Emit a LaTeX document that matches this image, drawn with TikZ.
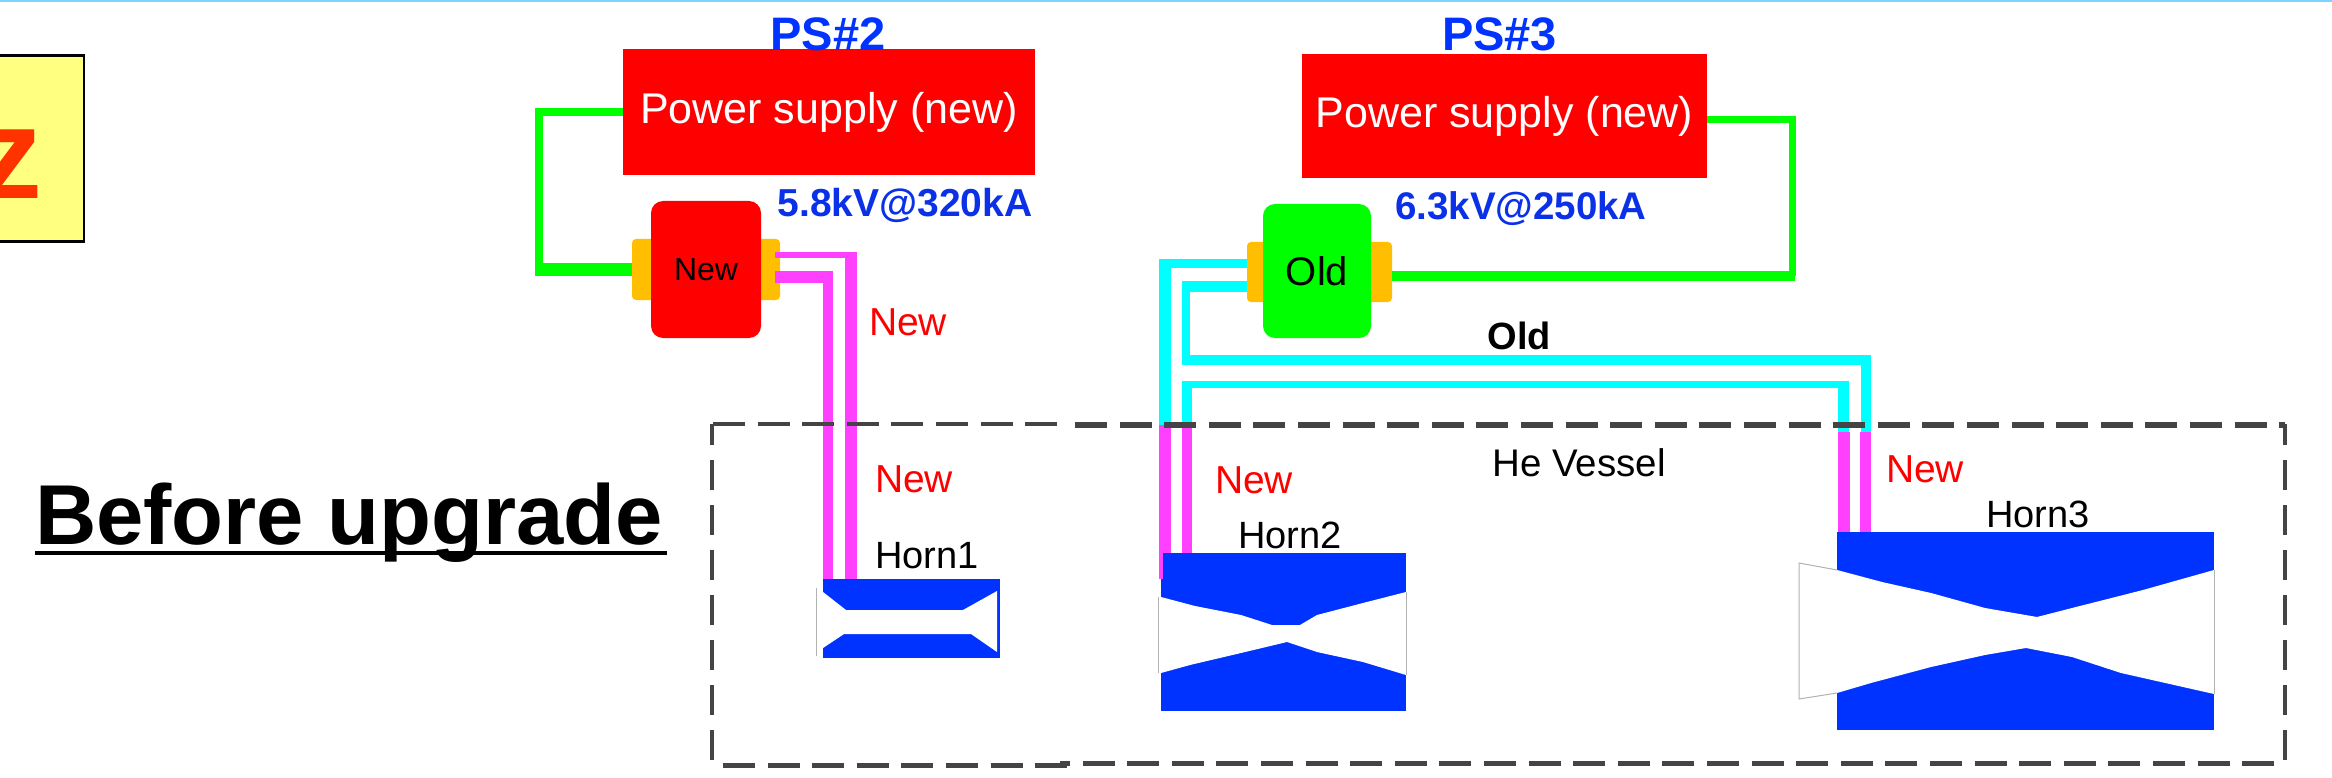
\documentclass[tikz,border=0pt]{standalone}
\usepackage{fontspec}
\setmainfont{Liberation Sans}
\definecolor{hornblue}{HTML}{0033FF}
\definecolor{labelblue}{HTML}{0A30E8}
\definecolor{wiremag}{HTML}{FF40FF}
\definecolor{wirecyan}{HTML}{00FFFF}
\definecolor{wiregreen}{HTML}{00FF00}
\definecolor{tabor}{HTML}{FFBF00}
\definecolor{dashgray}{HTML}{444444}
\definecolor{zred}{HTML}{FF3300}
\definecolor{zyellow}{HTML}{FFFF80}
\definecolor{topline}{HTML}{7FD4FF}
\newcommand{\fs}[1]{\fontsize{#1}{#1}\selectfont}
\tikzset{
  every node/.style={inner sep=0pt,outer sep=0pt},
  supply/.style={fill=red,text=white,font=\fs{43}},
  tabbox/.style={fill=tabor,rounded corners=4pt},
  switchbox/.style={rounded corners=12pt},
  hornbox/.style={fill=hornblue},
  bore/.style={fill=white,draw=none},
  hornedge/.style={draw=black!30,line width=1pt},
  greenwire/.style={draw=wiregreen,line join=miter},
  cyanwire/.style={draw=wirecyan,line join=miter},
  magwire/.style={draw=wiremag,line join=miter},
  vesselh/.style={draw=dashgray,dash pattern=on 32pt off 12.6pt},
  vesselv/.style={draw=dashgray,line width=3.5pt,dash pattern=on 30pt off 15pt},
  pslabel/.style={text=hornblue,font=\bfseries\fs{47}},
  volt/.style={text=labelblue,font=\bfseries\fs{38.5}},
  newlabel/.style={text=red,font=\fs{39}},
  blacklabel/.style={text=black,font=\fs{38}},
}
\begin{document}
\begin{tikzpicture}[x=1pt,y=-1pt]
\useasboundingbox (0,0) rectangle (2332,778);
\fill[white] (0,0) rectangle (2332,778);
\fill[topline] (0,0) rectangle (2332,2);

% left box
\node[draw=black,line width=2.5pt,fill=zyellow,minimum width=104pt,minimum height=186pt] (zbox) at (32,148.5) {};
\node[text=zred,font=\bfseries\fs{130},anchor=base] (zlab) at (10,199) {z};
\node[anchor=base west,font=\bfseries\fs{85}] (before) at (35,544) {Before upgrade};
\draw[line width=4pt] ([yshift=-9pt]before.base west) -- ([xshift=4pt,yshift=-9pt]before.base east);

% power supplies and switches
\node[supply,minimum width=412.5pt,minimum height=126pt] (ps2) at (829,112) {Power supply (new)};
\node[supply,minimum width=405pt,minimum height=124pt] (ps3) at (1504.5,116) {Power supply (new)};
\node[tabbox,minimum width=148pt,minimum height=61pt] (tab2) at (706,269.5) {};
\node[tabbox,minimum width=145pt,minimum height=60pt] (tab3) at (1319.5,272) {};

% horns
\node[hornbox,minimum width=177pt,minimum height=79pt] (horn1) at (911.5,618.5) {};
\node[hornbox,minimum width=245pt,minimum height=158pt] (horn2) at (1283.5,632) {};
\node[hornbox,minimum width=377pt,minimum height=198pt] (horn3) at (2025.5,631) {};

% named wire bends
\coordinate (g2c) at (539,269.5);
\coordinate (g2corner) at (535,269.5);
\coordinate (g3c) at (1792.5,276);
\coordinate (g3corner) at (1795,276);
\coordinate (m2a) at (851,255);
\coordinate (m2b) at (828,277);
\coordinate (c2a) at (1165,263.5);
\coordinate (c2b) at (1186,286.5);
\coordinate (c2c) at (1186,360);
\coordinate (c3a) at (1865.5,360);
\coordinate (c3b) at (1843.5,384.5);
\coordinate (v2a) at (1165,425);
\coordinate (v2b) at (1187,425);
\coordinate (v3a) at (1843.5,432);
\coordinate (v3b) at (1865.5,432);
\coordinate (v2c) at (1161,425);
\coordinate (v2d) at (1161,579);

% green wires
\draw[greenwire,line width=8pt] (ps2.west) -| (g2c);
\draw[greenwire,line width=13pt] (g2corner) -- (tab2.west);
\draw[greenwire,line width=7pt] (ps3.east |- 0,119.5) -| (g3c);
\draw[greenwire,line width=10pt] (g3corner) -- (g3corner -| tab3.east);

% magenta wires at Horn1
\draw[magwire,line width=6pt] (775,255) -- (857,255);
\draw[magwire,line width=12pt] (m2a) ++(0,-3) -- (m2a |- horn1.north);
\draw[magwire,line width=12pt] (775,277) -- (833,277);
\draw[magwire,line width=10pt] (m2b) ++(0,-6) -- (m2b |- horn1.north);

% magenta drops into Horn2 and Horn3
\draw[magwire,line width=12pt] (v2a) -- (v2a |- horn2.north);
\draw[magwire,line width=10pt] (v2b) -- (v2b |- horn2.north);
\draw[magwire,line width=4pt] (v2c) -- (v2d);
\draw[magwire,line width=12pt] (v3a) -- (v3a |- horn3.north);
\draw[magwire,line width=11pt] (v3b) -- (v3b |- horn3.north);

% cyan wires
\draw[cyanwire,line width=9pt] (tab3.west |- c2a) -- (1159,263.5);
\draw[cyanwire,line width=12pt] (1165,259) -- (v2a);
\draw[cyanwire,line width=11pt] (tab3.west |- c2b) -- (1182,286.5);
\draw[cyanwire,line width=8pt] (1186,281) -- (c2c);
\draw[cyanwire,line width=10pt] (1182,360) -- (1870.5,360);
\draw[cyanwire,line width=10pt] (c3a) -- (v3b);
\draw[cyanwire,line width=7pt] (1182,384.5) -- (1849,384.5);
\draw[cyanwire,line width=10pt] (1187,381) -- (v2b);
\draw[cyanwire,line width=11pt] (c3b) ++(0,-4) -- (v3a);

% switches
\node[switchbox,fill=red,minimum width=110pt,minimum height=137pt,font=\fs{32}] (sw2) at (706,269.5) {New};
\node[switchbox,fill=wiregreen,minimum width=108pt,minimum height=134pt,font=\fs{40}] (sw3) at (1317,271) {Old};

% horn bores
\fill[bore] (816,588) -- (823,592) -- (846,610) -- (963,610) -- (997,591) -- (997,652) -- (971,634) -- (844,634) -- (823,648) -- (816,656) -- cycle;
\draw[hornedge] (816,588) -- (816,656);
\fill[bore] (1158,597) -- (1161,597) -- (1195,606) -- (1241,615) -- (1272,625) -- (1300,625) -- (1317,615) -- (1363,603) -- (1406,592) -- (1406,675) -- (1363,662) -- (1317,652) -- (1287,642) -- (1241,653) -- (1190,665) -- (1161,673) -- (1158,673) -- cycle;
\draw[hornedge] (1158.5,597) -- (1158.5,673);
\draw[hornedge] (1406,592) -- (1406,675);
\fill[bore] (1799,563) -- (1837,570) -- (1882,582) -- (1931,593) -- (1985,608) -- (2037,617) -- (2072,608) -- (2143,590) -- (2214,570) -- (2214,694) -- (2121,673) -- (2072,657) -- (2026,648) -- (1985,655) -- (1931,667) -- (1871,683) -- (1837,693) -- (1799,699) -- cycle;
\draw[hornedge] (1837,570) -- (1799,563) -- (1799,699) -- (1837,693);
\draw[hornedge] (2214,570) -- (2214,694);

% vessel
\draw[vesselh,line width=4pt] (713,424) -- (1062,424);
\draw[vesselh,line width=5.5pt] (1075,425) -- (2285,425);
\draw[vesselh,line width=5pt] (723,765) -- (1070,765);
\draw[vesselh,line width=5pt,dash phase=22pt] (1060,763) -- (2276,763);
\draw[vesselv,dash phase=9pt] (712,424) -- (712,763);
\draw[vesselv,dash phase=9pt] (2285,424) -- (2285,762);

% labels
\node[pslabel] (ps2lab) at (828,34.5) {PS\#2};
\node[pslabel] (ps3lab) at (1499.5,34.5) {PS\#3};
\node[volt,font=\bfseries\fs{39}] (v2lab) at (905,205) {5.8kV@320kA};
\node[volt] (v3lab) at (1521,209) {6.3kV@250kA};
\node[newlabel] (n0) at (908,322) {New};
\node[newlabel] (n1) at (914,479) {New};
\node[newlabel] (n2) at (1254,480) {New};
\node[newlabel] (n3) at (1925,469) {New};
\node[blacklabel] (h1) at (927,556) {Horn1};
\node[blacklabel] (h2) at (1290,535) {Horn2};
\node[blacklabel] (h3) at (2038,514) {Horn3};
\node[blacklabel,font=\fs{38.5}] (he) at (1579,463) {He Vessel};
\node[blacklabel,font=\bfseries\fs{38}] (old) at (1519.5,336) {Old};
\end{tikzpicture}
\end{document}
